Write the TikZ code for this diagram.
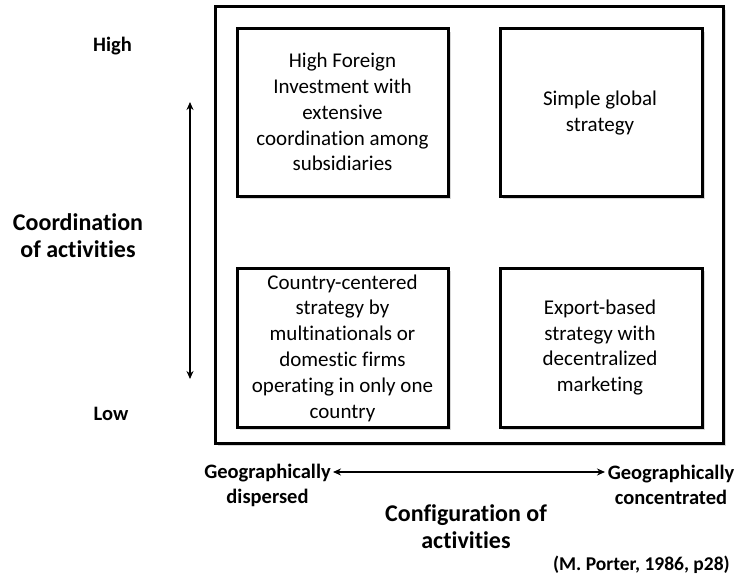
\documentclass[tikz,border=0pt]{standalone}
\usepackage{fontspec}
\setmainfont{Carlito}[Ligatures=NoCommon]
\usetikzlibrary{shadows,arrows.meta}
\begin{document}
\begin{tikzpicture}[x=1pt,y=-1pt,
  boxst/.style={draw=black,line width=3pt,fill=white,
    drop shadow={opacity=0.3,shadow xshift=3pt,shadow yshift=-3pt}},
  boxtext/.style={align=center,font=\fontsize{21}{25.8}\selectfont,inner sep=0pt},
  lab/.style={align=center,font=\bfseries\fontsize{20.5}{25}\selectfont,inner sep=0pt},
  biglab/.style={align=center,font=\bfseries\fontsize{24}{27}\selectfont,inner sep=0pt},
  dbl/.style={line width=2pt,{Stealth[length=8pt,width=7pt]}-{Stealth[length=8pt,width=7pt]}}]
\useasboundingbox (0,0) rectangle (739,578);
\draw[boxst] (215,7) rectangle (723,443);
\draw[boxst] (237,29) rectangle (448,196);
\draw[boxst] (500,29) rectangle (702,196);
\draw[boxst] (237,268) rectangle (448,427);
\draw[boxst] (500,268) rectangle (702,427);
\node[boxtext] (tl) at (342.5,112) {High Foreign\\Investment with\\extensive\\coordination among\\subsidiaries};
\node[boxtext] (tr) at (600,113) {Simple global\\strategy};
\node[boxtext] (bl) at (342.5,348) {Country-centered\\strategy by\\multinationals or\\domestic firms\\operating in only one\\country};
\node[boxtext] (br) at (600,347.5) {Export-based\\strategy with\\decentralized\\marketing};
\node[lab,anchor=base] (high) at (112.5,52) {High};
\node[lab,anchor=base] (low) at (111,420) {Low};
\node[biglab] (coord) at (78,236) {Coordination\\of activities};
\coordinate (vt) at (190,102);
\coordinate (vb) at (190,379);
\draw[dbl] (vt) -- (vb);
\node[lab] (gd) at (267.5,485) {Geographically\\dispersed};
\node[lab] (gc) at (671,485) {Geographically\\concentrated};
\coordinate (hl) at (333,472);
\coordinate (hr) at (605,472);
\draw[dbl] (hl) -- (hr);
\node[biglab] (conf) at (466,527) {Configuration of\\activities};
\node[lab,font=\bfseries\fontsize{19.5}{22}\selectfont,anchor=east] (src) at (730,565) {(M. Porter, 1986, p28)};
\end{tikzpicture}
\end{document}
